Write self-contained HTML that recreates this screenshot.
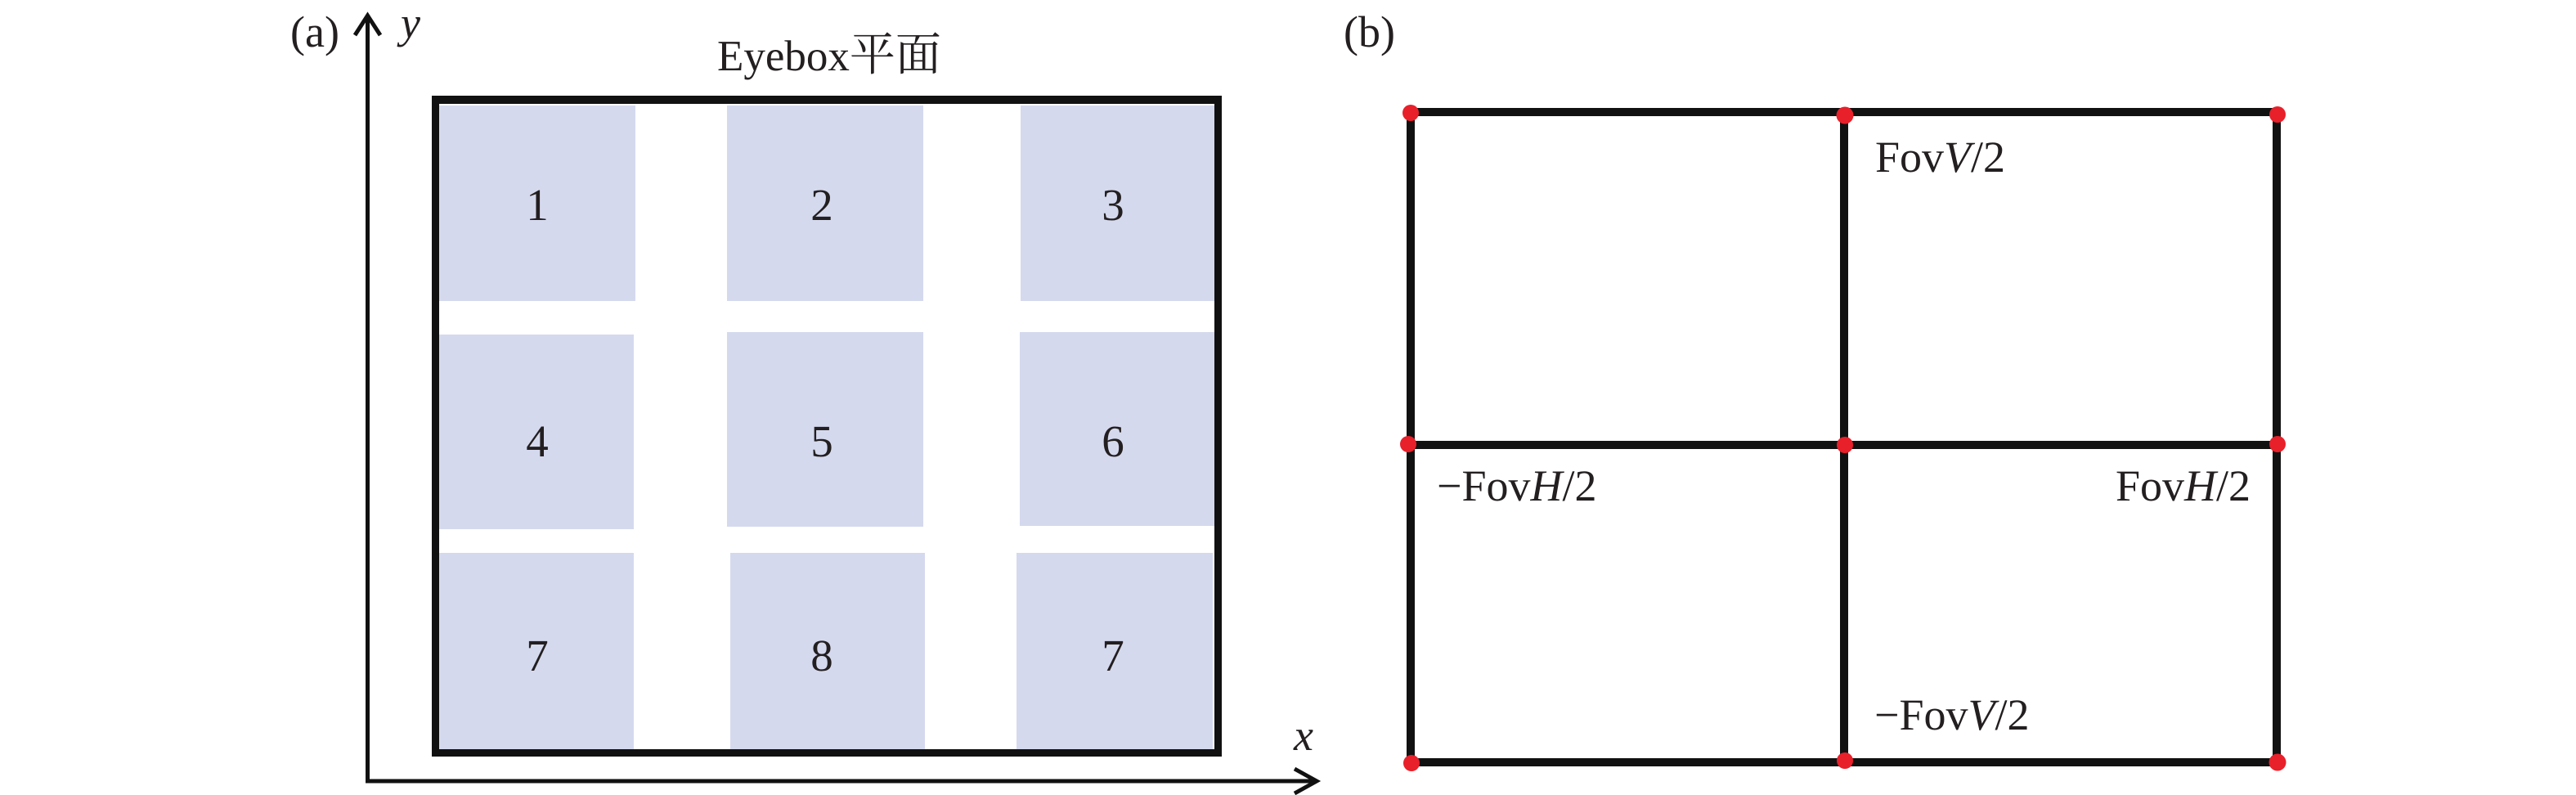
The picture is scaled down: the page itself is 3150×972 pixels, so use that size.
<!DOCTYPE html>
<html>
<head>
<meta charset="utf-8">
<style>
  html, body { margin: 0; padding: 0; background: #ffffff; }
  body { width: 3150px; height: 972px; overflow: hidden; }
  svg { display: block; }
  text { font-family: "Liberation Serif", "Noto Serif CJK SC", serif; fill: #231f20; }
</style>
</head>
<body>
<svg width="3150" height="972" viewBox="0 0 3150 972" xmlns="http://www.w3.org/2000/svg">
  <rect x="0" y="0" width="3150" height="972" fill="#ffffff"/>

  <!-- ===== Panel (a) ===== -->
  <text x="355" y="57" font-size="54">(a)</text>
  <text x="490" y="46" font-size="54" font-style="italic">y</text>
  <text x="1582" y="917" font-size="54" font-style="italic">x</text>

  <!-- cells -->
  <g fill="#d5d9ee">
    <rect x="537" y="129" width="240" height="239"/>
    <rect x="889" y="129" width="240" height="239"/>
    <rect x="1248" y="129" width="239" height="239"/>
    <rect x="535" y="409" width="240" height="238"/>
    <rect x="889" y="406" width="240" height="238"/>
    <rect x="1247" y="406" width="240" height="237"/>
    <rect x="535" y="676" width="240" height="241"/>
    <rect x="893" y="676" width="238" height="241"/>
    <rect x="1243" y="676" width="240" height="241"/>
  </g>

  <!-- box border -->
  <g fill="#111111">
    <rect x="528" y="117" width="966" height="10"/>
    <rect x="528" y="916" width="966" height="9"/>
    <rect x="528" y="117" width="9" height="808"/>
    <rect x="1485" y="117" width="9" height="808"/>
  </g>

  <!-- cell labels -->
  <g font-size="55" text-anchor="middle">
    <text x="657" y="269">1</text>
    <text x="1005" y="269">2</text>
    <text x="1361" y="269">3</text>
    <text x="657" y="558">4</text>
    <text x="1005" y="558">5</text>
    <text x="1361" y="558">6</text>
    <text x="657" y="820">7</text>
    <text x="1005" y="820">8</text>
    <text x="1361" y="820">7</text>
  </g>

  <!-- title -->
  <text x="877" y="86" font-size="53">Eyebox<tspan font-size="56">平面</tspan></text>

  <!-- axes -->
  <g stroke="#111111" stroke-width="5" fill="none">
    <line x1="449.5" y1="20" x2="449.5" y2="957"/>
    <line x1="447" y1="955" x2="1610" y2="955"/>
    <polyline points="434,43 449.5,19 465,43" stroke-linejoin="miter"/>
    <polyline points="1583,940 1610,955 1583,970" stroke-linejoin="miter"/>
  </g>

  <!-- ===== Panel (b) ===== -->
  <text x="1643" y="57" font-size="54">(b)</text>

  <g fill="#111111">
    <rect x="1720" y="132" width="1069" height="10"/>
    <rect x="1720" y="539" width="1069" height="10"/>
    <rect x="1720" y="927" width="1069" height="10"/>
    <rect x="1720" y="132" width="10" height="805"/>
    <rect x="2250" y="132" width="10" height="805"/>
    <rect x="2779" y="132" width="10" height="805"/>
  </g>

  <g fill="#e8202a">
    <circle cx="1725" cy="138" r="10"/>
    <circle cx="2256" cy="141" r="10.5"/>
    <circle cx="2785" cy="140" r="10"/>
    <circle cx="1722" cy="543" r="10"/>
    <circle cx="2256" cy="544" r="10"/>
    <circle cx="2785" cy="543" r="10"/>
    <circle cx="1726" cy="933" r="10"/>
    <circle cx="2256" cy="930" r="10"/>
    <circle cx="2785" cy="932" r="10.5"/>
  </g>

  <g font-size="54">
    <text x="2293" y="210">Fov<tspan font-style="italic">V</tspan>/2</text>
    <text x="1757" y="612">−Fov<tspan font-style="italic">H</tspan>/2</text>
    <text x="2752" y="612" text-anchor="end">Fov<tspan font-style="italic">H</tspan>/2</text>
    <text x="2292" y="892">−Fov<tspan font-style="italic">V</tspan>/2</text>
  </g>
</svg>
</body>
</html>
